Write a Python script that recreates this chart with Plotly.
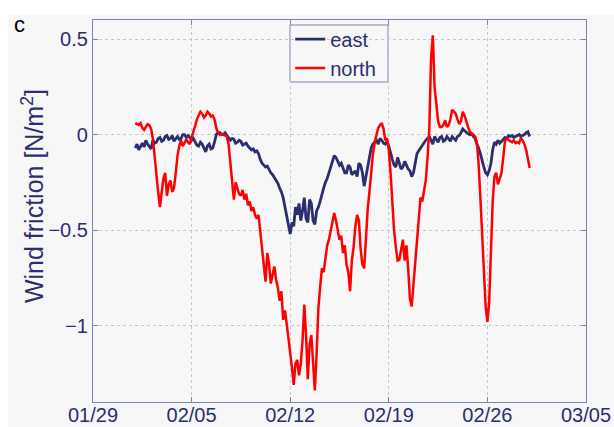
import pandas as pd
import plotly.graph_objects as go

# 3-hourly wind friction components, 1 Feb 00:00 to 1 Mar 00:00
time = pd.date_range("2014-02-01 00:00", "2014-03-01 00:00", freq="3h")

east = [
    -0.07, -0.05, -0.08, -0.06, -0.045, -0.065, -0.03, -0.05,
    -0.06, -0.075, -0.03, -0.045, -0.04, -0.02, -0.015, -0.035,
    -0.03, -0.01, -0.005, -0.025, -0.02, -0.005, -0.035, -0.02,
    -0.01, -0.025, -0.02, 0.0, 0.0, -0.015, -0.005, -0.015,
    -0.03, -0.02, -0.04, -0.055, -0.06, -0.04, -0.05, -0.07,
    -0.09, -0.06, -0.05, -0.075, -0.07, -0.04, 0.0, 0.01,
    0.01, 0.0, 0.0, 0.01, -0.005, -0.015, -0.03, -0.02,
    -0.025, -0.045, -0.04, -0.03, -0.035, -0.055, -0.05, -0.045,
    -0.06, -0.07, -0.08, -0.075, -0.09, -0.085, -0.1, -0.13,
    -0.15, -0.16, -0.17, -0.165, -0.185, -0.2, -0.21, -0.225,
    -0.24, -0.255, -0.28, -0.3, -0.33, -0.38, -0.43, -0.47,
    -0.52, -0.46, -0.48, -0.38, -0.42, -0.36, -0.45, -0.4,
    -0.33, -0.44, -0.46, -0.34, -0.36, -0.45, -0.47, -0.4,
    -0.38, -0.35, -0.31, -0.28, -0.25, -0.23, -0.2, -0.17,
    -0.14, -0.11, -0.12, -0.14, -0.16, -0.15, -0.18, -0.2,
    -0.2, -0.16, -0.17, -0.21, -0.2, -0.19, -0.22, -0.15,
    -0.16, -0.2, -0.27, -0.22, -0.16, -0.1, -0.07, -0.05,
    -0.04, -0.03, -0.05, -0.02, -0.03, -0.045, -0.05, -0.035,
    -0.06, -0.1, -0.13, -0.16, -0.17, -0.12, -0.15, -0.18,
    -0.17, -0.14, -0.16, -0.18, -0.19, -0.22, -0.2, -0.15,
    -0.1, -0.085, -0.07, -0.06, -0.04, -0.03, -0.02, -0.01,
    -0.03, -0.05, -0.01, -0.025, -0.04, -0.015, -0.01, -0.035,
    -0.03, -0.01, -0.02, -0.035, -0.01, -0.02, -0.03, -0.01,
    -0.005, 0.01, 0.03, 0.02, 0.01, 0.005, 0.0, 0.005,
    -0.01, -0.02, -0.05, -0.07, -0.1, -0.14, -0.17, -0.2,
    -0.21, -0.19, -0.15, -0.08, -0.04, -0.05, -0.03, -0.045,
    -0.035, -0.02, -0.015, -0.02, -0.005, -0.01, -0.005, -0.015,
    -0.01, -0.005, 0.0, -0.01, -0.005, 0.0, 0.01, 0.015,
    -0.01,
]

north = [
    0.06, 0.055, 0.05, 0.06, 0.035, 0.025, 0.04, 0.055,
    0.05, 0.03, -0.02, -0.12, -0.24, -0.3, -0.38, -0.3,
    -0.23, -0.2, -0.32, -0.26, -0.24, -0.3, -0.28, -0.2,
    -0.11, -0.06, -0.03, -0.06, -0.045, -0.025, -0.04, -0.05,
    -0.015, 0.01, 0.045, 0.08, 0.10, 0.12, 0.11, 0.09,
    0.10, 0.12, 0.11, 0.095, 0.10, 0.08, 0.035, 0.01,
    0.0, 0.005, 0.0, -0.005, -0.01, -0.05, -0.16, -0.26,
    -0.34, -0.25, -0.28, -0.31, -0.32, -0.29, -0.34, -0.31,
    -0.37, -0.35, -0.40, -0.38, -0.42, -0.44, -0.42, -0.5,
    -0.58, -0.66, -0.77, -0.62, -0.68, -0.78, -0.73, -0.69,
    -0.76, -0.8, -0.87, -0.82, -0.97, -0.92, -0.99, -1.06,
    -1.15, -1.22, -1.31, -1.2, -1.18, -1.26, -1.20, -1.08,
    -0.89, -1.05, -1.28, -1.1, -1.05, -1.2, -1.34, -1.15,
    -0.91, -0.8, -0.70, -0.72, -0.645, -0.58, -0.55, -0.5,
    -0.44, -0.41, -0.45, -0.5, -0.55, -0.53, -0.62, -0.58,
    -0.68, -0.72, -0.82, -0.66, -0.59, -0.48, -0.42, -0.45,
    -0.60, -0.68, -0.70, -0.55, -0.39, -0.3, -0.185, -0.1,
    -0.04, 0.0, 0.035, 0.05, 0.06, 0.03, -0.03, -0.02,
    -0.08, -0.2, -0.37, -0.5, -0.59, -0.66, -0.655, -0.6,
    -0.55, -0.66, -0.58, -0.7, -0.86, -0.9, -0.79, -0.68,
    -0.55, -0.44, -0.33, -0.35, -0.30, -0.24, -0.12, 0.03,
    0.40, 0.52, 0.25, 0.15, 0.07, 0.04, 0.04, 0.05,
    0.075, 0.04, 0.05, 0.08, 0.13, 0.12, 0.11, 0.08,
    0.055, 0.07, 0.12, 0.1, 0.065, 0.04, 0.015, 0.005,
    0.0, -0.01, -0.04, -0.15, -0.33, -0.55, -0.75, -0.9,
    -0.98, -0.88, -0.62, -0.35, -0.22, -0.2, -0.26, -0.23,
    -0.20, -0.12, -0.03, -0.02, -0.03, -0.035, -0.04, -0.03,
    -0.045, -0.04, -0.045, -0.02, -0.03, -0.05, -0.08, -0.13,
    -0.175,
]

x_tick_vals = ["2014-01-29", "2014-02-05", "2014-02-12",
               "2014-02-19", "2014-02-26", "2014-03-05"]
x_tick_text = ["01/29", "02/05", "02/12", "02/19", "02/26", "03/05"]
y_tick_vals = [-1, -0.5, 0, 0.5]
y_tick_text = ["\u22121", "\u22120.5", "0", "0.5"]

NAVY = "#2b2f70"
AXIS = "#7d81b0"
GRID = "#c4c5d0"
BG = "#f7f7f7"
FONT = "Liberation Sans, Arial, sans-serif"

fig = go.Figure()
fig.add_trace(go.Scatter(x=time, y=east, mode="lines", name="east",
                         line=dict(color=NAVY, width=2.8)))
fig.add_trace(go.Scatter(x=time, y=north, mode="lines", name="north",
                         line=dict(color="#ff0000", width=2.5)))

axis_common = dict(
    showline=True, linecolor=AXIS, linewidth=1.2, mirror="ticks",
    ticks="inside", ticklen=5, tickcolor=AXIS, tickwidth=1,
    showgrid=True, gridcolor=GRID, griddash="dot", gridwidth=1,
    zeroline=False, automargin=False,
    tickfont=dict(family=FONT, size=20, color=NAVY),
)

fig.update_xaxes(range=["2014-01-29", "2014-03-05"],
                 tickmode="array", tickvals=x_tick_vals, ticktext=x_tick_text,
                 ticklabelstandoff=-5, **axis_common)
fig.update_yaxes(range=[-1.4, 0.6],
                 tickmode="array", tickvals=y_tick_vals, ticktext=y_tick_text,
                 **axis_common)

fig.update_layout(
    width=614, height=427,
    margin=dict(l=93, r=28, t=20, b=25),
    paper_bgcolor="white", plot_bgcolor=BG,
    font=dict(family=FONT, color=NAVY, size=20),
    showlegend=True,
    legend=dict(x=0.4, y=1.001, xanchor="left", yanchor="top",
                bgcolor="rgba(0,0,0,0)", borderwidth=0,
                font=dict(family=FONT, size=20, color=NAVY),
                itemwidth=30, tracegroupgap=0),
    shapes=[
        dict(type="rect", xref="paper", yref="paper",
             x0=-0.1724, x1=1.06, y0=-0.07, y1=1.0131,
             fillcolor=BG, line=dict(width=0), layer="below"),
        dict(type="rect", xref="paper", yref="paper",
             x0=0.3996, x1=0.5984, y0=0.8377, y1=0.9869,
             fillcolor=BG, line=dict(color=AXIS, width=1), layer="below"),
    ],
    annotations=[
        dict(text="c", xref="paper", yref="paper", x=-0.164, y=1.025,
             xanchor="left", yanchor="top", showarrow=False,
             font=dict(family=FONT, size=22, color="black")),
        dict(text="Wind friction [N/m<sup>2</sup>]", xref="paper", yref="paper",
             x=-0.1217, y=0.539, xanchor="center", yanchor="middle",
             textangle=-90, showarrow=False,
             font=dict(family=FONT, size=25, color=NAVY)),
    ],
)

fig.write_html("out.html")
